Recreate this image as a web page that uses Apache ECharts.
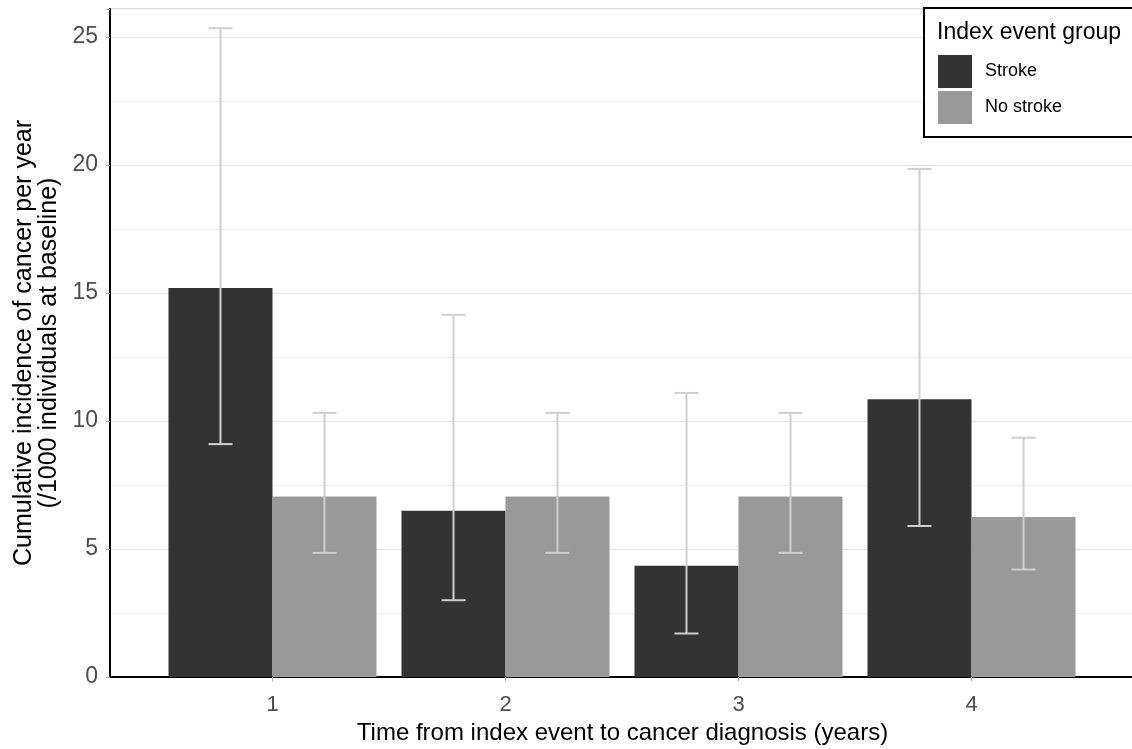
<!DOCTYPE html>
<html>
<head>
<meta charset="utf-8">
<script src="https://cdn.jsdelivr.net/npm/echarts@6/dist/echarts.min.js"></script>
<style>
  html, body { margin: 0; padding: 0; background: #fff; }
  #chart { width: 1132px; height: 749px; }
</style>
</head>
<body>
<div id="chart"></div>
<script>
// values
const years = [1, 2, 3, 4];
const strokeRate = [15.2, 6.5, 4.35, 10.85];
const strokeLow = [9.1, 3.0, 1.7, 5.9];
const strokeHigh = [25.35, 14.15, 11.1, 19.85];
const noStrokeRate = [7.05, 7.05, 7.05, 6.25];
const noStrokeLow = [4.85, 4.85, 4.85, 4.2];
const noStrokeHigh = [10.32, 10.32, 10.32, 9.35];
const yTicks = [0, 5, 10, 15, 20, 25];

const BAR_W = 104;
const FONT = '"Liberation Sans", Arial, Helvetica, sans-serif';

const chart = echarts.init(document.getElementById('chart'));

// whisker for one group, shifted by half a bar to sit over its bar
function errorBar(shift) {
  return function (params, api) {
    const lo = api.coord([api.value(0), api.value(1)]);
    const hi = api.coord([api.value(0), api.value(2)]);
    const x = lo[0] + shift;
    const hw = 12;
    const st = { stroke: '#cfcfcf', lineWidth: 2 };
    return {
      type: 'group',
      children: [
        { type: 'line', shape: { x1: x, y1: lo[1], x2: x, y2: hi[1] }, style: st },
        { type: 'line', shape: { x1: x - hw, y1: lo[1], x2: x + hw, y2: lo[1] }, style: st },
        { type: 'line', shape: { x1: x - hw, y1: hi[1], x2: x + hw, y2: hi[1] }, style: st }
      ]
    };
  };
}

chart.setOption({
  animation: false,
  textStyle: { fontFamily: FONT },
  grid: {
    left: 110, width: 1025, top: 9, bottom: 72,
    outerBoundsMode: 'none',
    show: true, borderColor: '#bdbdbd', borderWidth: 1
  },
  graphic: [
    {
      type: 'rect', z: 3,
      shape: { x: 924, y: 8, width: 240, height: 129 },
      style: { fill: '#fff', stroke: '#000', lineWidth: 2 }
    },
    {
      type: 'text', z: 4, x: 937, y: 21,
      style: { text: 'Index event group', font: '23px ' + FONT, fill: '#000' }
    }
  ],
  legend: {
    z: 5,
    orient: 'vertical',
    left: 938, top: 55,
    padding: 0,
    itemWidth: 34, itemHeight: 33, itemGap: 3,
    icon: 'rect',
    textStyle: { fontSize: 18, color: '#000', padding: [3, 0, 0, 8] },
    data: ['Stroke', 'No stroke']
  },
  xAxis: {
    type: 'value',
    min: 0.3026, max: 4.7017,
    offset: 3,
    name: 'Time from index event to cancer diagnosis (years)',
    nameLocation: 'middle',
    nameGap: 40,
    nameTextStyle: { fontSize: 24, color: '#000' },
    axisLine: { show: true, lineStyle: { color: '#000', width: 2 } },
    axisTick: { show: true, length: 4, customValues: years, lineStyle: { color: '#aaa' } },
    axisLabel: { customValues: years, fontSize: 22, color: '#4d4d4d', margin: 14 },
    splitLine: { show: false }
  },
  yAxis: [
    {
      type: 'value',
      min: 0, max: 26.1, interval: 5,
      name: 'Cumulative incidence of cancer per year\n(/1000 individuals at baseline)',
      nameLocation: 'middle',
      nameGap: 48,
      nameTextStyle: { fontSize: 25, lineHeight: 25, color: '#000' },
      axisLine: { show: true, lineStyle: { color: '#000', width: 2 } },
      axisTick: { show: true, length: 4, lineStyle: { color: '#aaa' } },
      axisLabel: {
        fontSize: 23, color: '#4d4d4d', margin: 12,
        formatter: v => (yTicks.indexOf(v) >= 0 ? String(v) : '')
      },
      splitLine: { show: true, lineStyle: { color: '#e3e3e3', width: 1.2 } }
    },
    {
      // only the faint half-step grid lines
      type: 'value',
      min: 0, max: 26.1, interval: 2.5,
      axisLine: { show: false },
      axisTick: { show: false },
      axisLabel: { show: false },
      splitLine: { show: true, lineStyle: { color: ['rgba(0,0,0,0)', '#f2f2f2'], width: 1 } }
    }
  ],
  series: [
    {
      name: 'Stroke',
      type: 'bar',
      barWidth: BAR_W,
      barGap: '0%',
      itemStyle: { color: '#333333' },
      data: years.map((y, i) => [y, strokeRate[i]])
    },
    {
      name: 'No stroke',
      type: 'bar',
      barWidth: BAR_W,
      barGap: '0%',
      itemStyle: { color: '#999999' },
      data: years.map((y, i) => [y, noStrokeRate[i]])
    },
    {
      name: 'Stroke CI',
      type: 'custom',
      z: 3,
      renderItem: errorBar(-BAR_W / 2),
      encode: { x: 0, y: [1, 2] },
      data: years.map((y, i) => [y, strokeLow[i], strokeHigh[i]])
    },
    {
      name: 'No stroke CI',
      type: 'custom',
      z: 3,
      renderItem: errorBar(BAR_W / 2),
      encode: { x: 0, y: [1, 2] },
      data: years.map((y, i) => [y, noStrokeLow[i], noStrokeHigh[i]])
    }
  ]
});
</script>
</body>
</html>
